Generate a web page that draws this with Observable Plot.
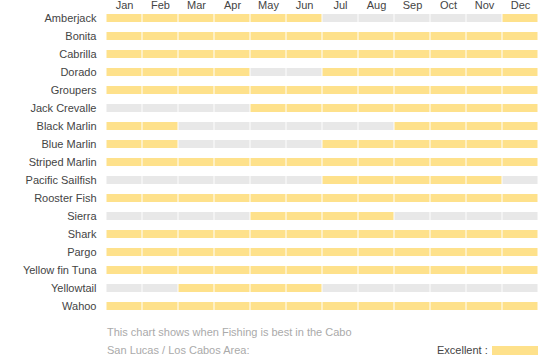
<!DOCTYPE html>
<html>
<head>
<meta charset="utf-8">
<script src="https://cdn.jsdelivr.net/npm/d3@7"></script>
<script src="https://cdn.jsdelivr.net/npm/@observablehq/plot@0.6"></script>
<style>
  body { margin: 0; background: #fff; font-family: "Liberation Sans", Arial, Helvetica, sans-serif; }
  #wrap { position: relative; width: 559px; height: 358px; }
  .cap { position: absolute; left: 107px; top: 323px; font-size: 11px; line-height: 18px; color: #aaa; }
  .legend { position: absolute; left: 437px; top: 344px; font-size: 11px; color: #444; display: flex; align-items: center; }
  .legend span.sw { display: inline-block; width: 46px; height: 9px; background: #fee18b; margin-left: 4px; }
</style>
</head>
<body>
<div id="wrap">
  <div id="chart"></div>
  <div class="cap">This chart shows when Fishing is best in the Cabo<br>San Lucas / Los Cabos Area:</div>
  <div class="legend">Excellent :<span class="sw"></span></div>
</div>
<script>
const months = ["Jan","Feb","Mar","Apr","May","Jun","Jul","Aug","Sep","Oct","Nov","Dec"];
const species = ["Amberjack","Bonita","Cabrilla","Dorado","Groupers","Jack Crevalle","Black Marlin","Blue Marlin","Striped Marlin","Pacific Sailfish","Rooster Fish","Sierra","Shark","Pargo","Yellow fin Tuna","Yellowtail","Wahoo"];
// 1 = excellent, 0 = not, Jan..Dec
const excellent = [
  [1,1,1,1,1,1,0,0,0,0,0,1], // Amberjack
  [1,1,1,1,1,1,1,1,1,1,1,1], // Bonita
  [1,1,1,1,1,1,1,1,1,1,1,1], // Cabrilla
  [1,1,1,1,0,0,1,1,1,1,1,1], // Dorado
  [1,1,1,1,1,1,1,1,1,1,1,1], // Groupers
  [0,0,0,0,1,1,1,1,1,1,1,1], // Jack Crevalle
  [1,1,0,0,0,0,0,0,1,1,1,1], // Black Marlin
  [1,1,0,0,0,0,1,1,1,1,1,1], // Blue Marlin
  [1,1,1,1,1,1,1,1,1,1,1,1], // Striped Marlin
  [0,0,0,0,0,0,1,1,1,1,1,0], // Pacific Sailfish
  [1,1,1,1,1,1,1,1,1,1,1,1], // Rooster Fish
  [0,0,0,0,1,1,1,1,0,0,0,0], // Sierra
  [1,1,1,1,1,1,1,1,1,1,1,1], // Shark
  [1,1,1,1,1,1,1,1,1,1,1,1], // Pargo
  [1,1,1,1,1,1,1,1,1,1,1,1], // Yellow fin Tuna
  [0,0,1,1,1,1,0,0,0,0,0,0], // Yellowtail
  [1,1,1,1,1,1,1,1,1,1,1,1]  // Wahoo
];

const table = [];
species.forEach((s, i) => months.forEach((m, j) => table.push({species: s, month: m, v: excellent[i][j]})));

const chart = Plot.plot({
  width: 559,
  height: 316,
  marginLeft: 105,
  marginRight: 21,
  marginTop: 9,
  marginBottom: 1,
  style: {fontFamily: "Liberation Sans, Arial, Helvetica, sans-serif", fontSize: "11px", color: "#444", background: "#fff"},
  x: {domain: months, padding: 0, axis: null},
  y: {domain: species, paddingInner: 0.556, paddingOuter: 0.278, axis: null},
  marks: [
    Plot.cell(table.filter(d => !d.v), {x: "month", y: "species", fill: "#e8e8e8", insetLeft: 0.5, insetRight: 0.5}),
    Plot.cell(table.filter(d => d.v), {x: "month", y: "species", fill: "#fee18b", insetLeft: 0.5, insetRight: 0.5}),
    Plot.axisX({anchor: "top", tickSize: 0, tickPadding: 1, label: null, fill: "#444", fontSize: 11}),
    Plot.axisY({anchor: "left", tickSize: 0, tickPadding: 9, label: null, fill: "#444", fontSize: 11})
  ]
});
document.getElementById("chart").appendChild(chart);
</script>
</body>
</html>
